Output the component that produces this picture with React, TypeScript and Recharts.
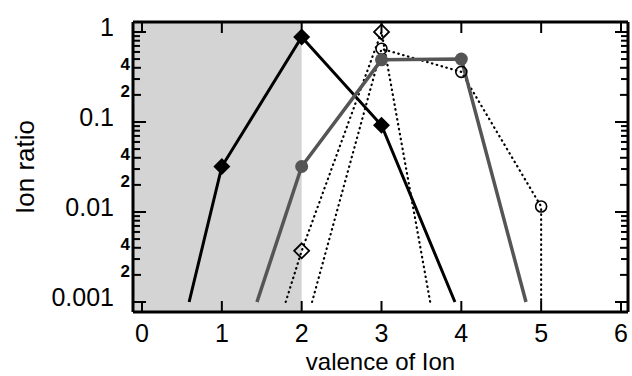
import { ComposedChart, Line, XAxis, YAxis, ReferenceArea } from "recharts"

// valence axis (x) and ion ratio axis (y, log)
const valenceTicks = [0, 1, 2, 3, 4, 5, 6]
const ratioTicks = [
  0.001, 0.002, 0.003, 0.004, 0.005, 0.006, 0.007, 0.008, 0.009,
  0.01, 0.02, 0.03, 0.04, 0.05, 0.06, 0.07, 0.08, 0.09,
  0.1, 0.2, 0.3, 0.4, 0.5, 0.6, 0.7, 0.8, 0.9,
  1,
]
const ratioMajor = [0.001, 0.01, 0.1, 1]
const ratioLabels: Record<string, string> = {
  "1": "1", "0.4": "4", "0.2": "2",
  "0.1": "0.1", "0.04": "4", "0.02": "2",
  "0.01": "0.01", "0.004": "4", "0.002": "2",
  "0.001": "0.001",
}
const shadedUpTo = 2

// black solid, filled diamonds
const ionAValence = [0.59, 1, 2, 3, 3.92]
const ionARatio = [0.001, 0.032, 0.88, 0.092, 0.001]
const ionAMarked = [false, true, true, true, false]

// gray solid, filled circles
const ionBValence = [1.44, 2, 3, 4, 4.81]
const ionBRatio = [0.001, 0.032, 0.49, 0.5, 0.001]
const ionBMarked = [false, true, true, true, false]

// dotted, open diamonds
const ionCValence = [1.8, 2, 3, 3.61]
const ionCRatio = [0.001, 0.0037, 1.0, 0.001]
const ionCMarked = [false, true, true, false]

// dotted, open circles
const ionDValence = [2.13, 3, 4, 5, 5]
const ionDRatio = [0.001, 0.65, 0.36, 0.0115, 0.001]
const ionDMarked = [false, true, true, true, false]

const build = (xs: number[], ys: number[], marks: boolean[]) =>
  xs.map((x, i) => ({ x, y: ys[i], marked: marks[i] }))

const seriesA = build(ionAValence, ionARatio, ionAMarked)
const seriesB = build(ionBValence, ionBRatio, ionBMarked)
const seriesC = build(ionCValence, ionCRatio, ionCMarked)
const seriesD = build(ionDValence, ionDRatio, ionDMarked)

const X_DOMAIN: [number, number] = [-0.113, 6.088]
const Y_DOMAIN: [number, number] = [0.000774, 1.291]

const isMajor = (v: number) => ratioMajor.includes(v)
const tickLen = (v: number) => (isMajor(v) ? 13 : ratioLabels[String(v)] ? 8 : 7)

const LeftTick = ({ x, y, payload }: any) => {
  const v = payload.value
  const label = ratioLabels[String(v)]
  const major = isMajor(v)
  return (
    <g>
      <line x1={x} x2={x + tickLen(v)} y1={y} y2={y} stroke="#000" strokeWidth={2} />
      {label && (
        <text
          x={major ? x - 19 : x - 3}
          y={major ? y + 4 : y + 2}
          textAnchor="end"
          fontSize={major ? 25 : 17}
          fontWeight={major ? 400 : 700}
          fill="#000"
        >
          {label}
        </text>
      )}
    </g>
  )
}

const RightTick = ({ x, y, payload }: any) => (
  <line x1={x} x2={x - tickLen(payload.value)} y1={y} y2={y} stroke="#000" strokeWidth={2} />
)

const BottomTick = ({ x, y, payload }: any) => (
  <g>
    <line x1={x} x2={x} y1={y} y2={y - 11} stroke="#000" strokeWidth={2} />
    <text x={x} y={y + 30} textAnchor="middle" fontSize={25} fill="#000">
      {payload.value}
    </text>
  </g>
)

const TopTick = ({ x, y }: any) => (
  <line x1={x} x2={x} y1={y} y2={y + 11} stroke="#000" strokeWidth={2} />
)

const makeDot = (kind: "diamond" | "circle" | "openDiamond" | "openCircle") => (props: any) => {
  const { cx, cy, payload, index } = props
  if (!payload.marked) return <g key={`d-${index}`} />
  if (kind === "diamond") {
    const r = 8.5
    return <polygon key={`d-${index}`} points={`${cx},${cy - r} ${cx + r},${cy} ${cx},${cy + r} ${cx - r},${cy}`} fill="#000" />
  }
  if (kind === "openDiamond") {
    const r = 7.5
    return <polygon key={`d-${index}`} points={`${cx},${cy - r} ${cx + r},${cy} ${cx},${cy + r} ${cx - r},${cy}`} fill="none" stroke="#000" strokeWidth={1.8} />
  }
  if (kind === "circle") {
    return <circle key={`d-${index}`} cx={cx} cy={cy} r={6.5} fill="#555" />
  }
  return <circle key={`d-${index}`} cx={cx} cy={cy} r={5.5} fill="none" stroke="#000" strokeWidth={1.6} />
}

export default function App() {
  return (
    <div style={{ position: "absolute", left: 0, top: 0, fontFamily: "'Liberation Sans', Arial, sans-serif" }}>
      <ComposedChart width={632} height={376} margin={{ top: 21, right: 3, bottom: 0, left: 0 }}>
        <XAxis
          xAxisId="b"
          type="number"
          dataKey="x"
          domain={X_DOMAIN}
          allowDataOverflow
          ticks={valenceTicks}
          height={64}
          tickSize={0}
          tickMargin={0}
          tickLine={false}
          axisLine={{ stroke: "#000", strokeWidth: 3 }}
          tick={<BottomTick />}
          label={{ value: "valence of Ion", position: "insideBottom", offset: 6, fill: "#000", fontSize: 24 }}
        />
        <XAxis
          xAxisId="t"
          orientation="top"
          type="number"
          dataKey="x"
          domain={X_DOMAIN}
          allowDataOverflow
          ticks={valenceTicks}
          height={1}
          tickSize={0}
          tickMargin={0}
          tickLine={false}
          axisLine={{ stroke: "#000", strokeWidth: 3 }}
          tick={<TopTick />}
        />
        <YAxis
          yAxisId="l"
          type="number"
          scale="log"
          domain={Y_DOMAIN}
          allowDataOverflow
          ticks={ratioTicks}
          interval={0}
          width={133}
          tickSize={0}
          tickMargin={0}
          tickLine={false}
          axisLine={{ stroke: "#000", strokeWidth: 3 }}
          tick={<LeftTick />}
          label={{
            content: (p: any) => {
              const vb = p.viewBox || { x: 0, y: 22, height: 290 }
              const cx = vb.x + 34
              const cy = vb.y + vb.height / 2
              return (
                <text x={cx} y={cy} transform={`rotate(-90 ${cx} ${cy})`} textAnchor="middle" fontSize={26} fill="#000">
                  Ion ratio
                </text>
              )
            },
          }}
        />
        <YAxis
          yAxisId="r"
          orientation="right"
          type="number"
          scale="log"
          domain={Y_DOMAIN}
          allowDataOverflow
          ticks={ratioTicks}
          interval={0}
          width={1}
          tickSize={0}
          tickMargin={0}
          tickLine={false}
          axisLine={{ stroke: "#000", strokeWidth: 3 }}
          tick={<RightTick />}
        />
        <ReferenceArea xAxisId="b" yAxisId="l" x1={X_DOMAIN[0]} x2={shadedUpTo} fill="#d4d4d4" fillOpacity={1} stroke="none" />
        {/* hidden series so the mirrored frame axes get a domain */}
        <Line xAxisId="t" yAxisId="r" data={seriesA} dataKey="y" stroke="none" dot={false} activeDot={false} isAnimationActive={false} />
        <Line xAxisId="b" yAxisId="l" data={seriesC} dataKey="y" stroke="#000" strokeWidth={2.2} strokeDasharray="0.5 4.5" strokeLinecap="round" dot={makeDot("openDiamond")} activeDot={false} isAnimationActive={false} />
        <Line xAxisId="b" yAxisId="l" data={seriesD} dataKey="y" stroke="#000" strokeWidth={2.2} strokeDasharray="0.5 4.5" strokeLinecap="round" dot={makeDot("openCircle")} activeDot={false} isAnimationActive={false} />
        <Line xAxisId="b" yAxisId="l" data={seriesA} dataKey="y" stroke="#000" strokeWidth={3} dot={makeDot("diamond")} activeDot={false} isAnimationActive={false} />
        <Line xAxisId="b" yAxisId="l" data={seriesB} dataKey="y" stroke="#555" strokeWidth={3.5} dot={makeDot("circle")} activeDot={false} isAnimationActive={false} />
      </ComposedChart>
    </div>
  )
}
